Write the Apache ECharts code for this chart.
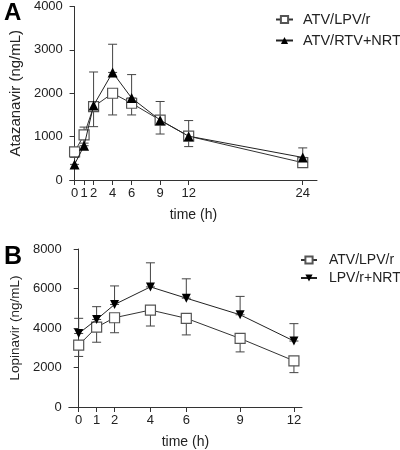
<!DOCTYPE html>
<html><head><meta charset="utf-8">
<script src="https://cdn.jsdelivr.net/npm/echarts@6/dist/echarts.min.js"></script>
<style>html,body{margin:0;padding:0;background:#fff}#c{width:400px;height:450px}</style>
</head><body><div id="c"></div>
<script>
// Panel A: Atazanavir
const timesA = [0, 1, 2, 4, 6, 9, 12, 24];
const atvLpvA = [650, 1040, 1690, 2000, 1770, 1380, 1010, 400];
const atvLpvA_low = [520, 850, 1230, 1500, 1500, 1060, 770, 300];
const atvRtvA = [360, 790, 1720, 2480, 1890, 1380, 1010, 520];
const atvRtvA_high = [620, 1220, 2490, 3130, 2430, 1810, 1370, 740];
const yTicksA = [0, 1000, 2000, 3000, 4000];

// Panel B: Lopinavir
const timesB = [0, 1, 2, 4, 6, 9, 12];
const atvLpvB = [3130, 4040, 4520, 4910, 4490, 3470, 2340];
const atvLpvB_low = [2560, 3280, 3760, 4100, 3650, 2790, 1740];
const lpvNrtiB = [3720, 4430, 5190, 6080, 5510, 4670, 3340];
const lpvNrtiB_high = [4490, 5080, 6130, 7300, 6490, 5600, 4220];
const yTicksB = [0, 2000, 4000, 6000, 8000];

const FONT = 'Liberation Sans, Arial, sans-serif';
const AX = '#333';
const ERR = '#444';

function pairs(xs, ys){ return xs.map((x,i)=>[x, ys[i]]); }
function errData(xs, a, b){ return xs.map((x,i)=>[x, Math.min(a[i],b[i]), Math.max(a[i],b[i])]); }

function errSeries(xi, yi, data){
  return {
    type: 'custom', xAxisIndex: xi, yAxisIndex: yi, silent: true, z: 1,
    data: data,
    renderItem: function(params, api){
      const x = api.value(0);
      const p1 = api.coord([x, api.value(1)]);
      const p2 = api.coord([x, api.value(2)]);
      const w = 4.5;
      const st = {stroke: ERR, lineWidth: 1, fill: null};
      return {type: 'group', children: [
        {type:'line', shape:{x1:p1[0],y1:p1[1],x2:p2[0],y2:p2[1]}, style:st},
        {type:'line', shape:{x1:p1[0]-w,y1:p1[1],x2:p1[0]+w,y2:p1[1]}, style:st},
        {type:'line', shape:{x1:p2[0]-w,y1:p2[1],x2:p2[0]+w,y2:p2[1]}, style:st}
      ]};
    }
  };
}

function xAxisCfg(gi, min, max, ticks, name, nameGap){
  return {
    type: 'value', gridIndex: gi, min: min, max: max,
    name: name, nameLocation: 'middle', nameGap: nameGap,
    nameTextStyle: {fontFamily: FONT, fontSize: 14, color: '#222'},
    axisLine: {show: true, onZero: false, lineStyle: {color: AX, width: 1}},
    axisTick: {show: true, length: 5, lineStyle: {color: AX}, customValues: ticks},
    axisLabel: {fontFamily: FONT, fontSize: 13, color: '#222', margin: 7, customValues: ticks},
    splitLine: {show: false}
  };
}
function yAxisCfg(gi, max, interval, ticks, name, nameGap, fs){
  return {
    type: 'value', gridIndex: gi, min: 0, max: max, interval: interval,
    name: name, nameLocation: 'middle', nameGap: nameGap,
    nameTextStyle: {fontFamily: FONT, fontSize: fs, color: '#222'},
    axisLine: {show: true, lineStyle: {color: AX, width: 1}},
    axisTick: {show: true, length: 5, lineStyle: {color: AX}},
    axisLabel: {fontFamily: FONT, fontSize: 13, color: '#222', margin: 7,
      formatter: v => (ticks.indexOf(v) >= 0 ? String(v) : '')},
    splitLine: {show: false}
  };
}

const chart = echarts.init(document.getElementById('c'), null, {renderer: 'canvas'});
chart.setOption({
  backgroundColor: '#fff',
  animation: false,
  title: [
    {text: 'A', left: -1, top: -4, textStyle: {fontFamily: FONT, fontSize: 24, fontWeight: 'bold', color: '#000'}},
    {text: 'B', left: -1, top: 240, textStyle: {fontFamily: FONT, fontSize: 25, fontWeight: 'bold', color: '#000'}}
  ],
  grid: [
    {left: 58, top: 5, width: 259, height: 175},
    {left: 53, top: 249, width: 249, height: 164}
  ],
  xAxis: [
    xAxisCfg(0, -0.5, 25.5, timesA, 'time (h)', 28),
    xAxisCfg(1, -0.55, 12.45, timesB, 'time (h)', 28)
  ],
  yAxis: [
    yAxisCfg(0, 4000, 1000, yTicksA, 'Atazanavir (ng/mL)', 45, 15),
    yAxisCfg(1, 8000, 2000, yTicksB, 'Lopinavir (ng/mL)', 46, 13.5)
  ],
  legend: [
    {
      left: 275, top: 12, orient: 'vertical', padding: 0, itemWidth: 17, itemHeight: 9, itemGap: 6,
      data: ['ATV/LPV/r', 'ATV/RTV+NRTI'],
      textStyle: {fontFamily: FONT, fontSize: 14.5, color: '#222', lineHeight: 14, padding: [0,0,0,5]}
    },
    {
      left: 300, top: 253, orient: 'vertical', padding: 0, itemWidth: 16, itemHeight: 9, itemGap: 4,
      data: [{name: 'ATV/LPV/r '}, {name: 'LPV/r+NRTI'}],
      textStyle: {fontFamily: FONT, fontSize: 14, color: '#222', lineHeight: 14, padding: [0,0,0,7]}
    }
  ],
  series: [
    errSeries(0, 0, errData(timesA, atvLpvA, atvLpvA_low)),
    errSeries(0, 0, errData(timesA, atvRtvA, atvRtvA_high)),
    {
      name: 'ATV/LPV/r', type: 'line', xAxisIndex: 0, yAxisIndex: 0, z: 3,
      data: pairs(timesA, atvLpvA), symbol: 'rect', symbolSize: 10,
      lineStyle: {color: '#333', width: 1},
      itemStyle: {color: '#fff', borderColor: '#555', borderWidth: 1.2}
    },
    {
      name: 'ATV/RTV+NRTI', type: 'line', xAxisIndex: 0, yAxisIndex: 0, z: 4,
      data: pairs(timesA, atvRtvA), symbol: 'triangle', symbolSize: 10,
      lineStyle: {color: '#222', width: 1},
      itemStyle: {color: '#000', borderColor: '#000', borderWidth: 0}
    },
    errSeries(1, 1, errData(timesB, atvLpvB, atvLpvB_low)),
    errSeries(1, 1, errData(timesB, lpvNrtiB, lpvNrtiB_high)),
    {
      name: 'ATV/LPV/r ', type: 'line', xAxisIndex: 1, yAxisIndex: 1, z: 3,
      data: pairs(timesB, atvLpvB), symbol: 'rect', symbolSize: 10,
      lineStyle: {color: '#333', width: 1},
      itemStyle: {color: '#fff', borderColor: '#555', borderWidth: 1.2}
    },
    {
      name: 'LPV/r+NRTI', type: 'line', xAxisIndex: 1, yAxisIndex: 1, z: 4,
      data: pairs(timesB, lpvNrtiB), symbol: 'triangle', symbolRotate: 180, symbolSize: 9,
      lineStyle: {color: '#222', width: 1},
      itemStyle: {color: '#000', borderColor: '#000', borderWidth: 0}
    }
  ]
});
</script></body></html>
